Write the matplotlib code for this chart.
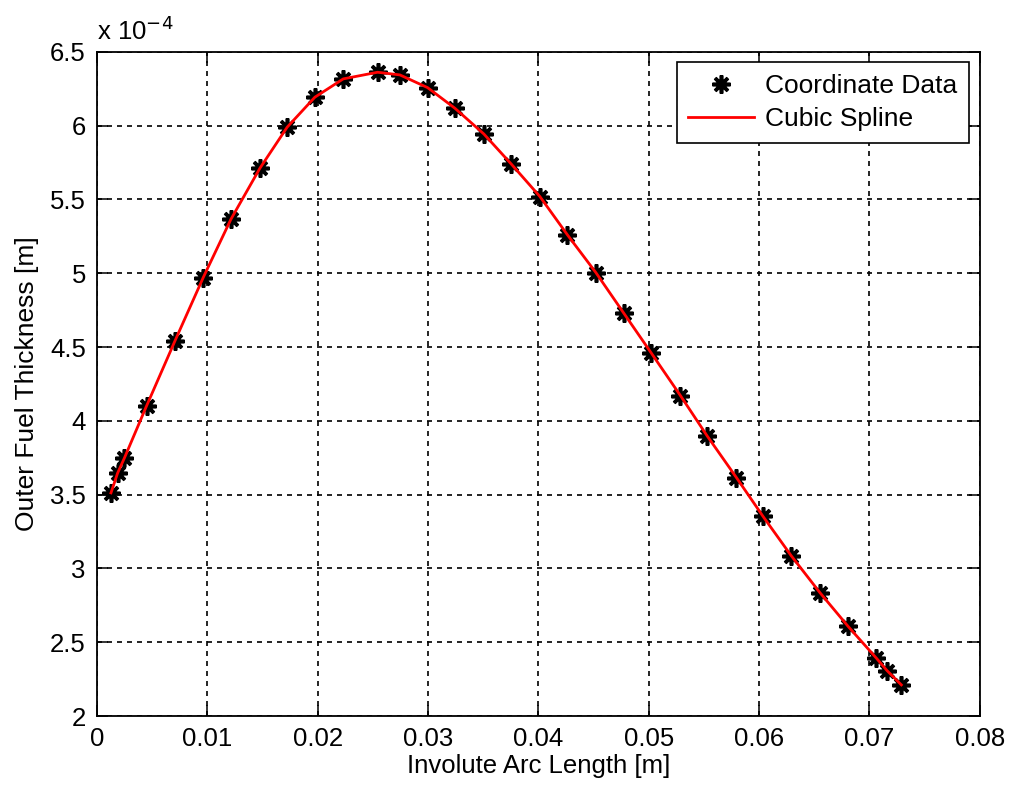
import matplotlib.pyplot as plt
import matplotlib.ticker as mticker
import numpy as np

plt.rcParams['font.family'] = ['Liberation Sans', 'DejaVu Sans']

# involute arc length [m] and outer fuel thickness [x 1e-4 m]
arc_length = [0.00127, 0.00187, 0.00248, 0.00450, 0.00707, 0.00963, 0.01214,
              0.01477, 0.01724, 0.01975, 0.02232, 0.02543, 0.02745, 0.02996,
              0.03244, 0.03506, 0.03756, 0.04014, 0.04264, 0.04521, 0.04775,
              0.05025, 0.05288, 0.05530, 0.05795, 0.06037, 0.06293, 0.06551,
              0.06808, 0.07064, 0.07160, 0.07290]
thickness = [3.512, 3.646, 3.747, 4.102, 4.542, 4.971, 5.366,
             5.712, 5.990, 6.193, 6.317, 6.362, 6.344, 6.258,
             6.118, 5.944, 5.739, 5.520, 5.260, 5.005, 4.729,
             4.458, 4.171, 3.898, 3.616, 3.352, 3.085, 2.837,
             2.607, 2.392, 2.308, 2.211]

x = np.array(arc_length)
y = np.array(thickness) * 1e-4

fig = plt.figure(figsize=(10.1, 7.86), dpi=100)
ax = fig.add_axes([0.096, 0.089, 0.874, 0.845])

ax.plot(x, y, linestyle='none', marker=(8, 2, 0), markersize=13,
        markeredgewidth=2.6, color='black', label='Coordinate Data', zorder=3)
ax.plot(x, y, color='red', linewidth=2.0, label='Cubic Spline', zorder=4)

ax.set_xlim(0, 0.08)
ax.set_ylim(2e-4, 6.5e-4)
ax.set_xticks(np.arange(0, 0.0801, 0.01))
ax.set_yticks(np.arange(2e-4, 6.51e-4, 0.5e-4))
ax.xaxis.set_major_formatter(mticker.FuncFormatter(lambda v, p: '0' if abs(v) < 1e-12 else f'{v:g}'))
ax.yaxis.set_major_formatter(mticker.FuncFormatter(lambda v, p: f'{v / 1e-4:g}'))

ax.grid(True, color='black', linestyle=(0, (3, 3)), linewidth=1.2)
ax.tick_params(direction='in', length=8, width=1.1, top=True, right=True,
               labelsize=18.5, pad=8)
for s in ax.spines.values():
    s.set_linewidth(1.3)

ax.text(0.0, 1.01, r'x 10$^{-4}$', transform=ax.transAxes, fontsize=18.5,
        ha='left', va='bottom')

ax.set_xlabel('Involute Arc Length [m]', fontsize=18.5, labelpad=2)
ax.set_ylabel('Outer Fuel Thickness [m]', fontsize=19, labelpad=8)

leg = ax.legend(loc='upper right', fontsize=19, frameon=True, fancybox=False,
                edgecolor='black', framealpha=1, borderaxespad=0.4,
                handlelength=2.5, handletextpad=0.4, borderpad=0.45,
                labelspacing=0.33)
leg.get_frame().set_linewidth(1.2)

fig.savefig('out.png', dpi=100)
